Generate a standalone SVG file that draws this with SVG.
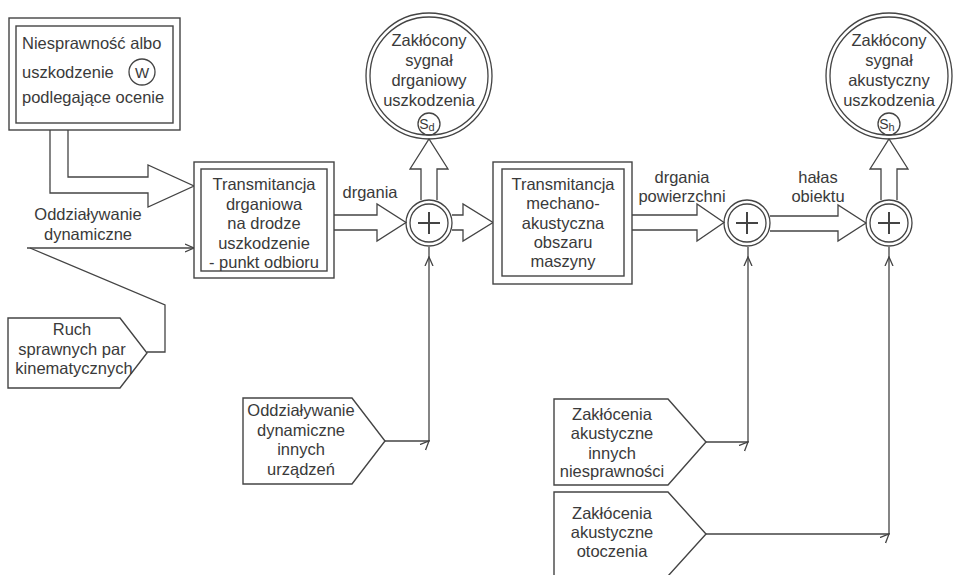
<svg xmlns="http://www.w3.org/2000/svg" width="964" height="575" viewBox="0 0 964 575">
<defs>
<style>
text{font-family:"Liberation Sans",Arial,sans-serif;font-size:16.5px;fill:#3a3a3a;text-anchor:middle}
.l{text-anchor:start}
.ln{fill:none;stroke:#444;stroke-width:1.3}
.bx{fill:#fff;stroke:#444;stroke-width:1.4}
.fat{fill:none;stroke:#444;stroke-width:1.3;stroke-linejoin:miter}
.small{font-size:11px}
</style>
<marker id="chev" viewBox="0 0 10 10" refX="9" refY="5" markerWidth="10" markerHeight="10" orient="auto" markerUnits="userSpaceOnUse">
<path d="M0,1 L9,5 L0,9" fill="none" stroke="#444" stroke-width="1.3"/>
</marker>
</defs>
<rect width="964" height="575" fill="#fff"/>

<g id="connectors">
<polyline class="fat" points="50,130 50,193 148,193 148,207 194,186 148,165 148,177 68,177 68,130"/>
<polyline class="fat" points="334,215 377,215 377,204 406,222.5 377,241 377,230 334,230"/>
<polyline class="fat" points="452,215 463,215 463,204 493,222.5 463,241 463,230 452,230"/>
<polyline class="fat" points="632,215 697,215 697,204 724,222.5 697,241 697,230 632,230"/>
<polyline class="fat" points="770,216 838,216 838,205 866,223 838,241 838,231 770,231"/>
<polyline class="fat" points="421,200 421,169 410,169 429,139 448,169 437,169 437,200"/>
<polyline class="fat" points="881,200 881,169 870,169 889,139 908,169 897,169 897,200"/>
<path class="ln" d="M27,248 L194,248" marker-end="url(#chev)"/>
<path class="ln" d="M30,248 L165,305 L165,352 L147,352"/>
<path class="ln" d="M385,441 L429,441 L429,257 L429,247" marker-mid="url(#chev)"/>
<path class="ln" d="M706,442 L748,442 L748,257 L748,247" marker-mid="url(#chev)"/>
<path class="ln" d="M706,534 L889,534 L889,257 L889,247" marker-mid="url(#chev)"/>
</g>

<g id="fault">
<rect class="bx" x="9" y="18" width="171" height="112"/>
<rect class="bx" x="16" y="26" width="157" height="97"/>
<text class="l" x="22" y="49">Niesprawność albo</text>
<text class="l" x="22" y="78">uszkodzenie</text>
<circle class="ln" cx="142" cy="72" r="13"/>
<text x="142" y="77.5" style="font-size:15px">W</text>
<text class="l" x="22" y="103">podlegające ocenie</text>
</g>

<g id="transm1">
<rect class="bx" x="194" y="162" width="140" height="116"/>
<rect class="bx" x="201" y="169" width="126" height="102"/>
<text x="264" y="190">Transmitancja</text>
<text x="264" y="210">drganiowa</text>
<text x="264" y="229">na drodze</text>
<text x="264" y="249">uszkodzenie</text>
<text x="264" y="268">- punkt odbioru</text>
</g>

<g id="transm2">
<rect class="bx" x="493" y="162" width="139" height="122"/>
<rect class="bx" x="502" y="169" width="122" height="107"/>
<text x="563" y="190">Transmitancja</text>
<text x="563" y="209">mechano-</text>
<text x="563" y="229">akustyczna</text>
<text x="563" y="248">obszaru</text>
<text x="563" y="267">maszyny</text>
</g>

<g id="sd">
<circle class="ln" cx="429" cy="76" r="63"/>
<circle class="ln" cx="429" cy="76" r="59"/>
<text x="429" y="46">Zakłócony</text>
<text x="429" y="66">sygnał</text>
<text x="429" y="86">drganiowy</text>
<text x="429" y="106">uszkodzenia</text>
<circle class="ln" cx="429" cy="124" r="11"/>
<text x="427" y="129" style="font-size:14px">S<tspan class="small" dy="2">d</tspan></text>
</g>

<g id="sh">
<circle class="ln" cx="889" cy="76" r="63"/>
<circle class="ln" cx="889" cy="76" r="59"/>
<text x="889" y="46">Zakłócony</text>
<text x="889" y="66">sygnał</text>
<text x="889" y="86">akustyczny</text>
<text x="889" y="106">uszkodzenia</text>
<circle class="ln" cx="889" cy="124" r="11"/>
<text x="887" y="129" style="font-size:14px">S<tspan class="small" dy="2">h</tspan></text>
</g>

<g id="sum1">
<circle class="ln" cx="429" cy="223" r="23"/>
<circle class="ln" cx="429" cy="223" r="19"/>
<path d="M418,223 H440 M429,212 V234" stroke="#444" stroke-width="2" fill="none"/>
</g>
<g id="sum2">
<circle class="ln" cx="747" cy="223" r="23"/>
<circle class="ln" cx="747" cy="223" r="19"/>
<path d="M736,223 H758 M747,212 V234" stroke="#444" stroke-width="2" fill="none"/>
</g>
<g id="sum3">
<circle class="ln" cx="889" cy="223" r="23"/>
<circle class="ln" cx="889" cy="223" r="19"/>
<path d="M878,223 H900 M889,212 V234" stroke="#444" stroke-width="2" fill="none"/>
</g>

<g id="ruch">
<polygon class="bx" points="8,318 120,318 147,353 120,388 8,388"/>
<text x="72" y="335">Ruch</text>
<text x="72" y="355">sprawnych par</text>
<text x="74" y="374">kinematycznych</text>
</g>

<g id="inne">
<polygon class="bx" points="243,398 352,398 385,441 352,484 243,484"/>
<text x="301" y="416">Oddziaływanie</text>
<text x="301" y="436">dynamiczne</text>
<text x="301" y="455">innych</text>
<text x="301" y="475">urządzeń</text>
</g>

<g id="zakl1">
<polygon class="bx" points="554,399 668,399 706,442 668,485 554,485"/>
<text x="612" y="420">Zakłócenia</text>
<text x="612" y="439">akustyczne</text>
<text x="612" y="459">innych</text>
<text x="612" y="477">niesprawności</text>
</g>

<g id="zakl2">
<polygon class="bx" points="554,492 668,492 706,534 668,576 554,576"/>
<text x="612" y="519">Zakłócenia</text>
<text x="612" y="538">akustyczne</text>
<text x="612" y="557">otoczenia</text>
</g>

<g id="labels">
<text x="88" y="220">Oddziaływanie</text>
<text x="88" y="240">dynamiczne</text>
<text x="370" y="198">drgania</text>
<text x="682" y="183">drgania</text>
<text x="682" y="202">powierzchni</text>
<text x="818" y="183">hałas</text>
<text x="818" y="202">obiektu</text>
</g>
</svg>
